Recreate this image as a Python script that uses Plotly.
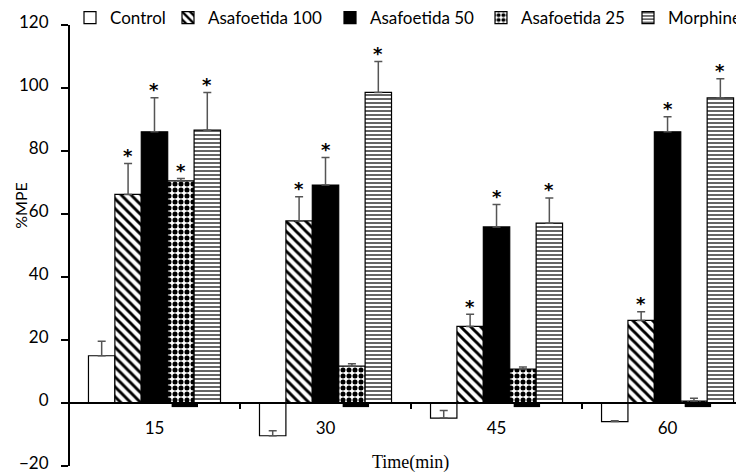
import plotly.graph_objects as go

categories = ["15", "30", "45", "60"]
series_names = ["Control", "Asafoetida 100", "Asafoetida 50", "Asafoetida 25", "Morphine"]

control = [15.0, -10.4, -4.8, -5.9]
control_err = [4.6, 1.6, 2.4, 0.3]
asa100 = [66.2, 57.8, 24.3, 26.2]
asa100_err = [9.8, 7.7, 3.9, 2.8]
asa50 = [86.1, 69.2, 55.9, 86.1]
asa50_err = [10.8, 8.7, 7.1, 4.8]
asa25 = [70.5, 11.7, 10.8, 0.6]
asa25_err = [0.8, 0.8, 0.6, 0.9]
morphine = [86.6, 98.6, 57.1, 96.9]
morphine_err = [12.0, 9.8, 8.0, 6.0]

sig_control = [False, False, False, False]
sig_asa100 = [True, True, True, True]
sig_asa50 = [True, True, True, True]
sig_asa25 = [True, False, False, False]
sig_morphine = [True, True, True, True]

baseline_strip = [-1.3, -1.3, -1.3, -1.3]

values = [control, asa100, asa50, asa25, morphine]
errors = [control_err, asa100_err, asa50_err, asa25_err, morphine_err]
sigs = [sig_control, sig_asa100, sig_asa50, sig_asa25, sig_morphine]

patterns = [
    dict(shape=""),
    dict(shape="\\", size=7, solidity=0.42, fgcolor="black", bgcolor="white", fillmode="replace"),
    dict(shape=""),
    dict(shape=".", size=6, solidity=0.55, fgcolor="black", bgcolor="white", fillmode="replace"),
    dict(shape="-", size=4, solidity=0.35, fgcolor="#222", bgcolor="white", fillmode="replace"),
]
colors = ["white", "white", "black", "white", "white"]

xs = list(range(len(categories)))
w = 0.1544

# figure is drawn inside the page's 8px body margin
FIG_W, FIG_H = 736, 465
legend_px = [62, 160, 322, 473, 620]

fig = go.Figure()
for k, name in enumerate(series_names):
    lname = "legend" if k == 0 else f"legend{k+1}"
    fig.add_trace(go.Bar(
        x=xs, y=values[k], name=name,
        width=w, offset=(k - 2.5) * w,
        marker=dict(color=colors[k], pattern=patterns[k],
                    line=dict(color="black", width=1.2)),
        error_y=dict(type="data", symmetric=False, array=errors[k],
                     arrayminus=[0] * len(xs), color="#555", thickness=1.5, width=4),
        legend=lname,
    ))

fig.add_trace(go.Bar(
    x=xs, y=baseline_strip, width=w, offset=(3 - 2.5) * w + 0.023,
    marker=dict(color="black", line=dict(width=0)), showlegend=False,
))

for k in range(len(series_names)):
    for i in xs:
        if sigs[k][i]:
            fig.add_annotation(x=i + (k - 2) * w, y=values[k][i] + errors[k][i],
                               text="<b>*</b>", showarrow=False, yanchor="middle",
                               yshift=8, font=dict(size=18, color="black", family="DejaVu Sans"))

fig.add_annotation(xref="paper", yref="paper", x=0.505, y=0.009, yanchor="middle",
                   xanchor="center", text="Time(min)", showarrow=False,
                   font=dict(family="Liberation Serif", size=18, color="black"))
fig.add_annotation(xref="paper", yref="paper", x=-0.073, y=0.592, textangle=-90,
                   xanchor="center", yanchor="middle",
                   text="%MPE", showarrow=False,
                   font=dict(family="Lato", size=16, color="black"))

layout_legends = {}
for k in range(len(series_names)):
    lname = "legend" if k == 0 else f"legend{k+1}"
    layout_legends[lname] = dict(
        orientation="h", xref="container", yref="container",
        x=legend_px[k] / FIG_W, y=1 - 10 / FIG_H, xanchor="left", yanchor="middle",
        font=dict(family="Lato", size=17, color="black"),
        bgcolor="rgba(0,0,0,0)", borderwidth=0,
    )

fig.update_layout(
    width=FIG_W, height=FIG_H,
    margin=dict(l=62, r=0, t=17, b=7, autoexpand=False),
    plot_bgcolor="white", paper_bgcolor="white",
    barmode="overlay",
    font=dict(family="Lato", size=16, color="black"),
    xaxis=dict(
        range=[-0.494, 3.447], anchor="free", position=20 / 140,
        tickmode="array", tickvals=xs, ticktext=categories,
        ticks="", showline=True, linecolor="black", linewidth=2,
        showgrid=False, zeroline=False, ticklabelstandoff=10,
        tickfont=dict(family="Lato", size=17),
        minor=dict(tickmode="array", tickvals=[0.5, 1.5, 2.5], ticks="outside",
                   ticklen=5, tickwidth=2, tickcolor="black"),
    ),
    yaxis=dict(
        range=[-20, 120], dtick=20, tick0=0,
        ticks="outside", ticklen=7, tickwidth=2, tickcolor="black",
        showline=True, linecolor="black", linewidth=2,
        showgrid=False, zeroline=False, ticklabelstandoff=9,
        ticklabeloverflow="allow", ticklabelshift=-3,
        tickfont=dict(family="Lato", size=17),
    ),
    **layout_legends,
)

fig.write_html("out.html")
